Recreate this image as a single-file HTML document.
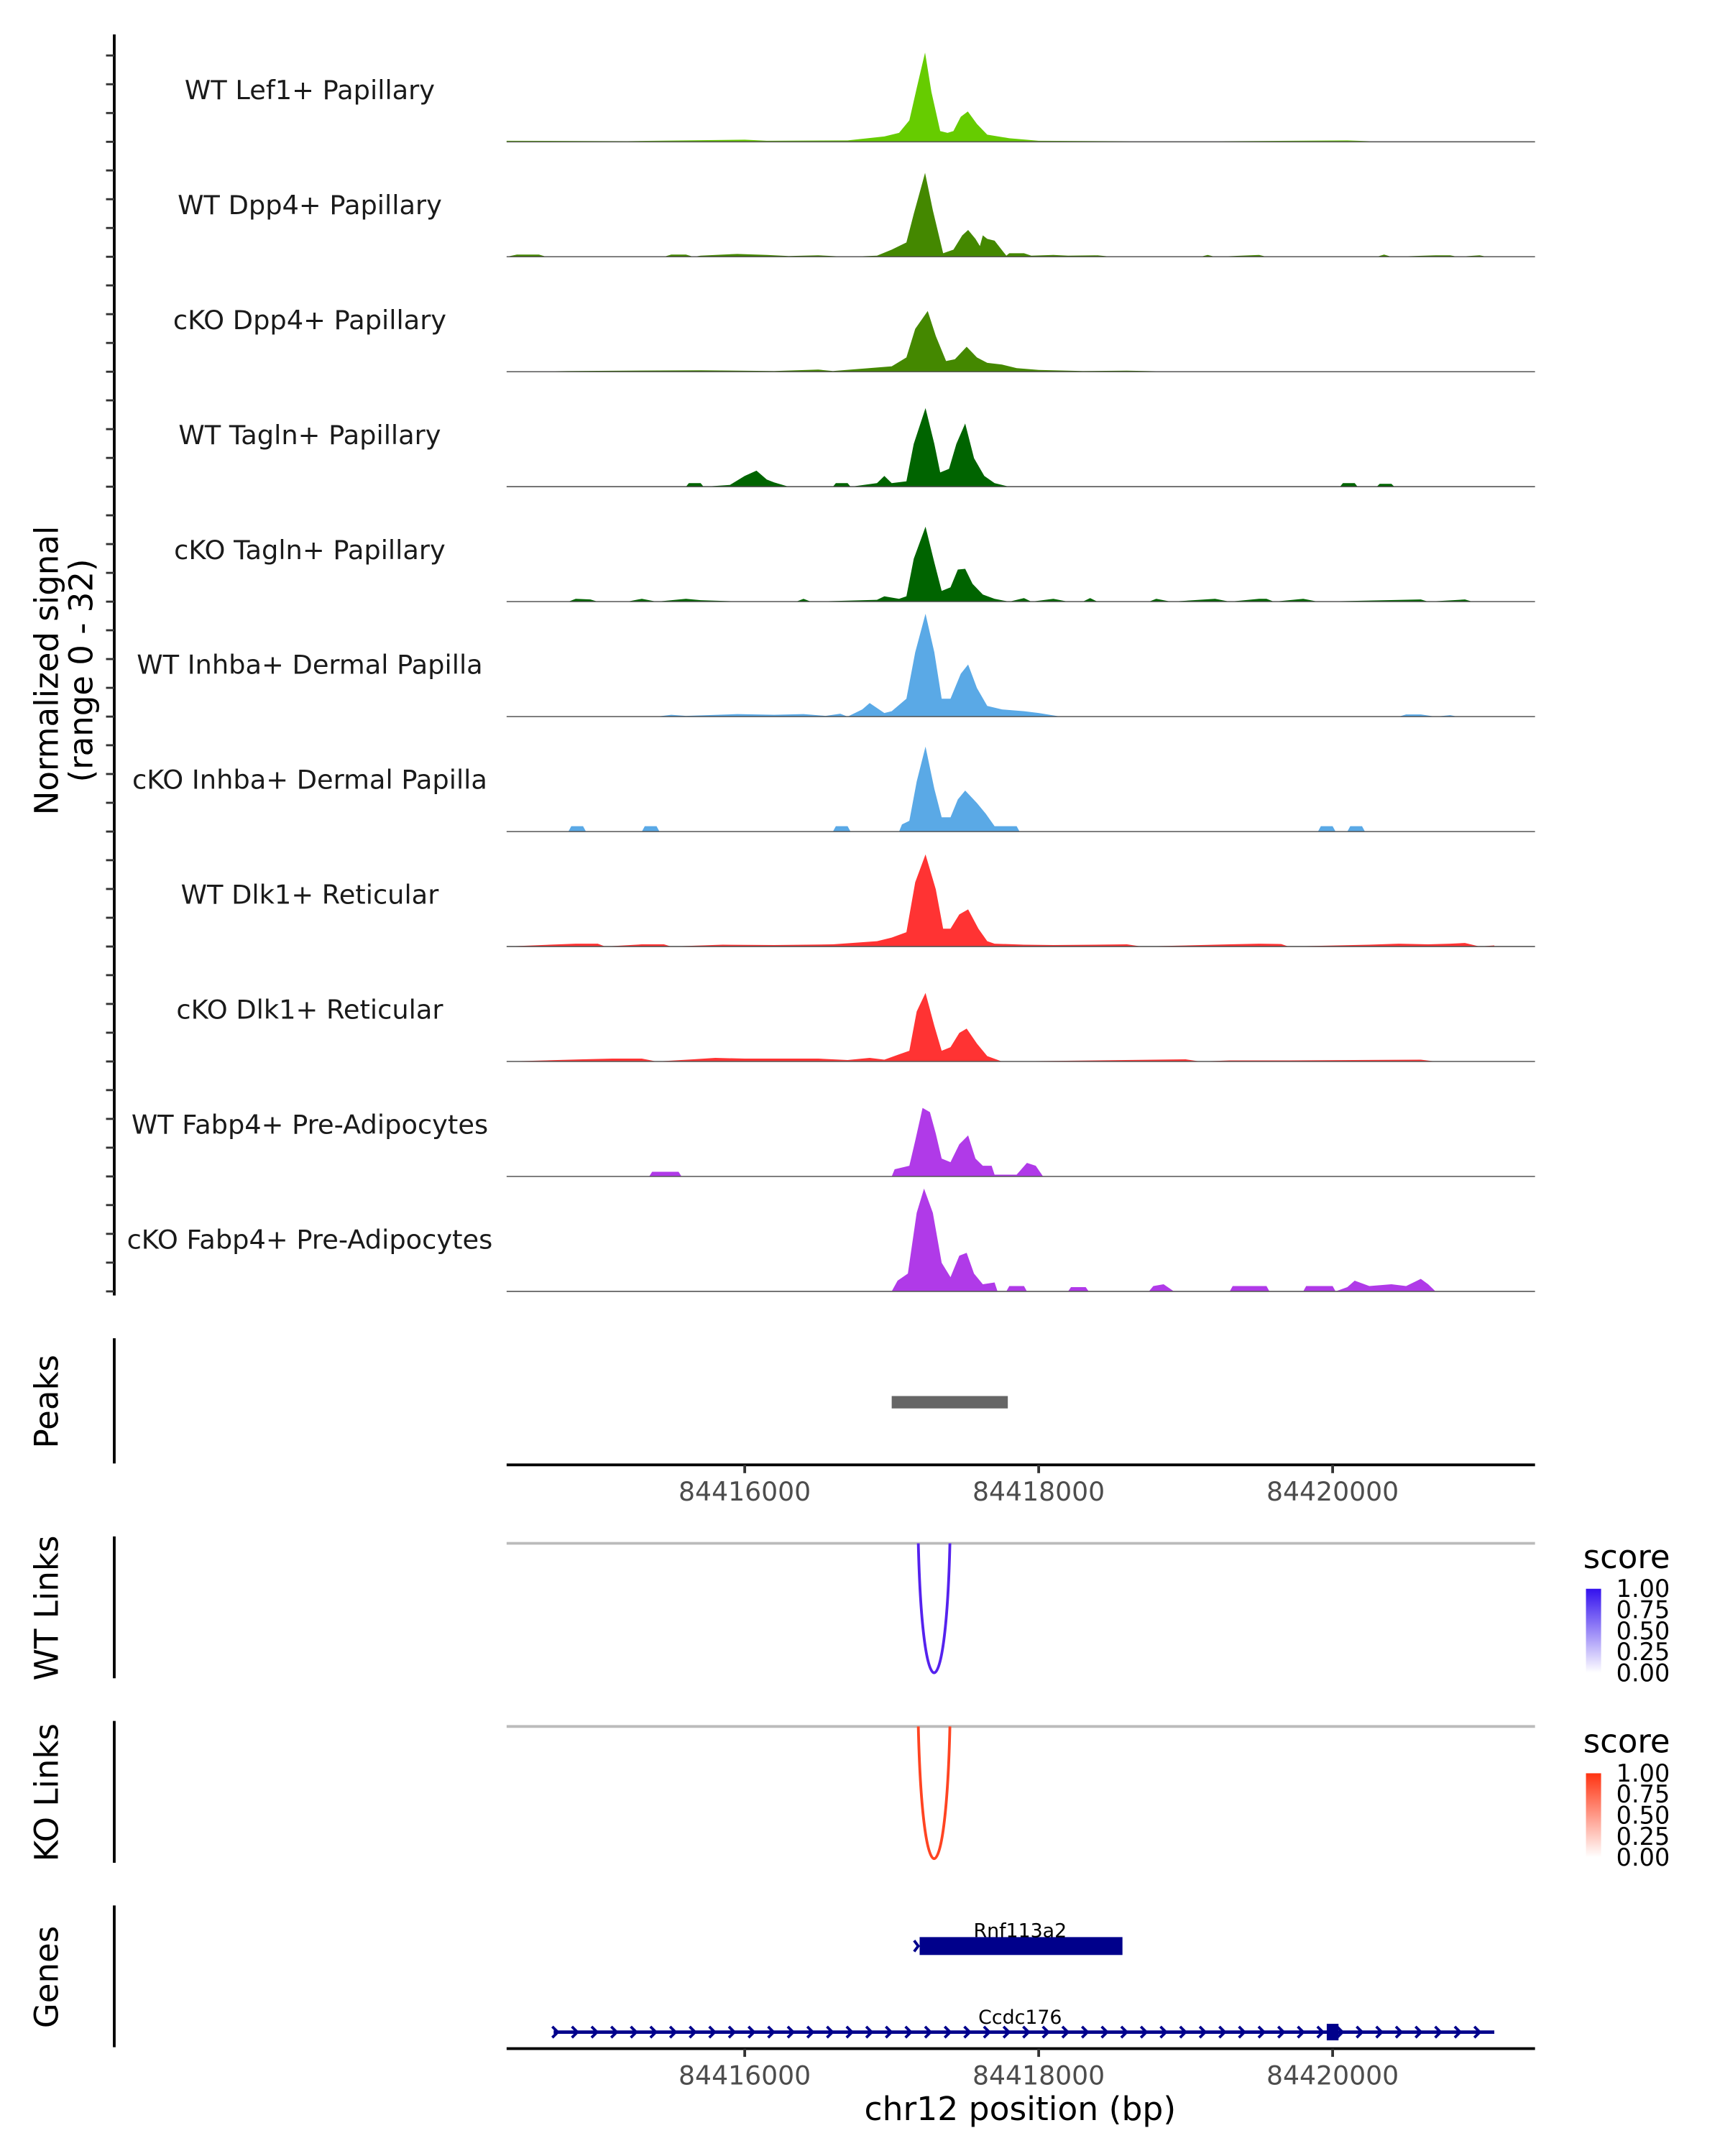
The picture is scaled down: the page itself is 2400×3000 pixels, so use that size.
<!DOCTYPE html>
<html><head><meta charset="utf-8"><style>
html,body{margin:0;padding:0;background:#fff;}
svg{display:block;font-family:"DejaVu Sans","Liberation Sans",sans-serif;}
</style></head><body>
<svg id="chart" width="2400" height="3000" viewBox="0 0 1253 1566" preserveAspectRatio="none" xmlns="http://www.w3.org/2000/svg">
<g id="tracks"></g>
<g id="static"></g>
</svg>
<script>
// ---- data ----
const trackNames = ["WT Lef1+ Papillary","WT Dpp4+ Papillary","cKO Dpp4+ Papillary","WT Tagln+ Papillary","cKO Tagln+ Papillary","WT Inhba+ Dermal Papilla","cKO Inhba+ Dermal Papilla","WT Dlk1+ Reticular","cKO Dlk1+ Reticular","WT Fabp4+ Pre-Adipocytes","cKO Fabp4+ Pre-Adipocytes"];
const trackColors = ["#66cc00","#448800","#448800","#006400","#006400","#5aa9e6","#5aa9e6","#ff3333","#ff3333","#b03ae8","#b03ae8"];
const lef1Wt = [[84414380,0.3],[84415200,0.2],[84416000,0.6],[84416150,0.3],[84416700,0.4],[84416950,1.5],[84417050,2.5],[84417120,6],[84417170,15],[84417227,25],[84417270,14],[84417330,3],[84417380,2.5],[84417420,3],[84417470,7],[84417518,8.5],[84417580,5],[84417650,2],[84417800,1],[84418000,0.3],[84419000,0.1],[84420100,0.4],[84420300,0.1],[84421377,0.1]];
const dpp4Wt = [[84414380,0],[84414450,0.6],[84414600,0.6],[84414650,0],[84415450,0],[84415500,0.6],[84415600,0.6],[84415650,0],[84415700,0.3],[84415950,0.8],[84416150,0.5],[84416300,0.2],[84416500,0.4],[84416700,0],[84416900,0.3],[84417000,2],[84417100,4],[84417150,12],[84417227,23.5],[84417280,13],[84417350,1],[84417420,2],[84417480,6],[84417520,7.5],[84417570,5],[84417600,3],[84417620,6],[84417650,5],[84417700,4.5],[84417780,0.3],[84417800,1],[84417900,1],[84417950,0.3],[84418100,0.5],[84418200,0.3],[84418400,0.4],[84418500,0],[84419100,0],[84419150,0.5],[84419200,0],[84419500,0.5],[84419550,0],[84420300,0],[84420350,0.6],[84420400,0],[84420700,0.4],[84420800,0.4],[84420850,0],[84421000,0.4],[84421050,0]];
const dpp4Ko = [[84414380,0],[84414800,0.2],[84415200,0.3],[84415700,0.4],[84416200,0.2],[84416500,0.6],[84416600,0.2],[84417000,1.5],[84417100,4],[84417160,12],[84417245,17],[84417300,10],[84417370,3],[84417430,3.5],[84417510,7],[84417580,4],[84417650,2.5],[84417750,2],[84417850,1],[84418000,0.5],[84418300,0.2],[84418600,0.3],[84419000,0],[84421377,0]];
const taglnWt = [[84414380,0],[84415600,0],[84415620,1],[84415700,1],[84415720,0],[84415900,0.5],[84416000,3],[84416080,4.5],[84416150,2],[84416200,1.2],[84416300,0],[84416600,0],[84416620,1],[84416700,1],[84416720,0],[84416900,1],[84416950,3],[84417000,1],[84417100,1.5],[84417150,12],[84417230,22],[84417290,12],[84417330,4],[84417390,5],[84417440,12],[84417500,17.7],[84417560,8],[84417630,3],[84417700,1],[84417800,0],[84420050,0],[84420070,1],[84420150,1],[84420170,0],[84420300,0],[84420320,0.8],[84420400,0.8],[84420420,0]];
const taglnKo = [[84414380,0],[84414800,0],[84414850,0.8],[84414950,0.6],[84415000,0],[84415200,0],[84415300,0.8],[84415400,0],[84415600,0.8],[84415700,0.4],[84416000,0],[84416350,0],[84416400,0.8],[84416450,0],[84416900,0.5],[84416950,1.5],[84417050,0.8],[84417100,1.5],[84417150,12],[84417230,21],[84417290,11],[84417340,3],[84417400,4],[84417450,9],[84417500,9.2],[84417550,5],[84417620,2],[84417700,0.8],[84417800,0],[84417900,1],[84417950,0],[84418100,0.8],[84418200,0],[84418300,0],[84418350,1],[84418400,0],[84418750,0],[84418800,0.8],[84418900,0],[84419200,0.8],[84419300,0],[84419500,0.8],[84419550,0.8],[84419600,0],[84419800,0.8],[84419900,0],[84420600,0.6],[84420650,0],[84420900,0.6],[84420950,0]];
const inhbaWt = [[84414380,0],[84415400,0],[84415500,0.5],[84415600,0.2],[84415950,0.7],[84416200,0.5],[84416400,0.7],[84416550,0.2],[84416650,0.8],[84416700,0],[84416800,2],[84416850,3.8],[84416950,1],[84417000,1.5],[84417100,5],[84417160,18],[84417230,28.8],[84417290,18],[84417340,5],[84417400,5],[84417470,12],[84417520,14.6],[84417580,8],[84417650,3],[84417750,2],[84417900,1.5],[84418000,1],[84418150,0],[84420450,0],[84420500,0.6],[84420600,0.6],[84420700,0],[84420800,0.4],[84420850,0]];
const inhbaKo = [[84414380,0],[84414800,0],[84414820,1.5],[84414900,1.5],[84414920,0],[84415300,0],[84415320,1.5],[84415400,1.5],[84415420,0],[84416600,0],[84416620,1.5],[84416700,1.5],[84416720,0],[84417050,0],[84417070,2],[84417120,3],[84417170,14],[84417230,23.8],[84417290,12],[84417340,4],[84417400,4],[84417450,9],[84417500,11.5],[84417580,8],[84417640,5],[84417700,1.5],[84417850,1.5],[84417870,0],[84419900,0],[84419920,1.5],[84420000,1.5],[84420020,0],[84420100,0],[84420120,1.5],[84420200,1.5],[84420220,0]];
const dlk1Wt = [[84414380,0],[84414850,0.8],[84415000,0.8],[84415050,0],[84415300,0.6],[84415450,0.6],[84415500,0],[84415850,0.5],[84416200,0.4],[84416600,0.6],[84416900,1.5],[84417000,2.5],[84417100,4],[84417160,18],[84417230,25.8],[84417300,16],[84417350,5],[84417400,5],[84417460,9],[84417520,10.4],[84417590,5],[84417650,1.5],[84417700,0.8],[84417900,0.5],[84418100,0.4],[84418600,0.6],[84418700,0],[84419300,0.6],[84419500,0.8],[84419650,0.7],[84419700,0],[84420250,0.5],[84420450,0.8],[84420650,0.6],[84420800,0.8],[84420900,1],[84421000,0],[84421100,0.3]];
const dlk1Ko = [[84414380,0],[84414900,0.6],[84415100,0.8],[84415300,0.8],[84415400,0],[84415650,0.6],[84415800,1],[84416000,0.8],[84416150,0.8],[84416300,0.8],[84416500,0.8],[84416700,0.4],[84416850,1],[84416950,0.5],[84417050,2],[84417120,3],[84417170,14],[84417230,19.2],[84417290,10],[84417340,3],[84417400,4],[84417460,8],[84417510,9.2],[84417580,5],[84417650,1.5],[84417750,0],[84419000,0.6],[84419100,0],[84419300,0.3],[84419700,0.3],[84420600,0.5],[84420700,0]];
const fabp4Wt = [[84414380,0],[84415350,0],[84415370,1.3],[84415550,1.3],[84415570,0],[84417000,0],[84417020,2],[84417120,3],[84417160,10],[84417210,19.2],[84417260,18],[84417300,12],[84417340,5],[84417400,4],[84417460,9],[84417520,11.5],[84417570,5],[84417620,3],[84417680,3],[84417700,0.5],[84417850,0.5],[84417920,3.8],[84417980,3],[84418030,0]];
const fabp4Ko = [[84414380,0],[84417000,0],[84417040,3],[84417110,5],[84417170,22],[84417220,28.8],[84417280,22],[84417340,8],[84417400,4],[84417460,10],[84417510,10.8],[84417560,5],[84417620,2],[84417700,2.5],[84417720,0],[84417780,0],[84417800,1.5],[84417900,1.5],[84417920,0],[84418200,0],[84418220,1.2],[84418320,1.2],[84418340,0],[84418750,0],[84418780,1.5],[84418850,2],[84418920,0],[84419300,0],[84419320,1.5],[84419550,1.5],[84419570,0],[84419800,0],[84419820,1.5],[84420000,1.5],[84420020,0],[84420100,1.2],[84420150,3],[84420250,1.5],[84420400,2],[84420500,1.5],[84420600,3.5],[84420650,2],[84420700,0]];
const trackData = [lef1Wt,dpp4Wt,dpp4Ko,taglnWt,taglnKo,inhbaWt,inhbaKo,dlk1Wt,dlk1Ko,fabp4Wt,fabp4Ko];
const xTicks = [84416000,84418000,84420000];
const peakRegions = [[84417000,84417790]];
const wtLinks = [[84417181,84417396,1.0]];
const koLinks = [[84417181,84417396,1.0]];
const legendTicks = ["1.00","0.75","0.50","0.25","0.00"];
const geneRnf = [84417190,84418570];
const geneCcdc = [84414700,84421100];
const ccdcExon = [84419960,84420040];

// ---- scales ----
const X0=368, X1=1115, BP0=84414380, BP1=84421377;
const xs = bp => X0 + (bp-BP0)/(BP1-BP0)*(X1-X0);
const baseY0=103, trackStep=83.5, yPerUnit=83/32;
const ys = (i,v) => baseY0 + i*trackStep - v*yPerUnit;
const NS="http://www.w3.org/2000/svg";
function mk(tag, attrs, parent){const e=document.createElementNS(NS,tag);for(const k in attrs)e.setAttribute(k,attrs[k]);parent.appendChild(e);return e;}
const T=document.getElementById('tracks'), S=document.getElementById('static');

trackData.forEach((pts,i)=>{
  const base=ys(i,0);
  let d=`M${xs(pts[0][0])},${base}`;
  pts.forEach(p=>{d+=` L${xs(p[0]).toFixed(2)},${ys(i,p[1]).toFixed(2)}`;});
  d+=` L${xs(pts[pts.length-1][0])},${base} Z`;
  const a=mk('path',{d:d,fill:trackColors[i],stroke:'none'},T);
  
  
  const l=mk('line',{x1:X0,x2:X1,y1:base,y2:base,stroke:'#555','stroke-width':0.8},T);
  
  
  const t=mk('text',{x:225,y:base-31,'text-anchor':'middle','font-size':19.2,fill:'#1a1a1a'},T);
  t.textContent=trackNames[i];
  
  
});
let ax=mk('line',{x1:83,x2:83,y1:25,y2:941,stroke:'#000','stroke-width':2},S);


for(let i=0;i<11;i++){for(let k=0;k<4;k++){
  const y=ys(i,0)-k*20.9;
  const tk=mk('line',{x1:77,x2:83,y1:y,y2:y,stroke:'#333','stroke-width':1.5},S);
  
  
}}
function vtext(x,y,s,name,size){const t=mk('text',{x:x,y:y,transform:`rotate(-90 ${x} ${y})`,'text-anchor':'middle','font-size':size||23.5,fill:'#000'},S);t.textContent=s;return t;}
vtext(42,487,"Normalized signal","y-axis-title");
vtext(67,487,"(range 0 - 32)","y-axis-subtitle");
[[972,1063,'Peaks',1018,'peaks'],[1116,1219,'WT Links',1168,'wt-links'],[1250,1353,'KO Links',1302,'ko-links'],[1384,1487,'Genes',1436,'genes']].forEach(a=>{
  const l=mk('line',{x1:83,x2:83,y1:a[0],y2:a[1],stroke:'#000','stroke-width':2},S);
  
  
  vtext(42,a[3],a[2],a[4]+'-label');
});
peakRegions.forEach(p=>{
  const r=mk('rect',{x:xs(p[0]),y:1014,width:xs(p[1])-xs(p[0]),height:9,fill:'#666'},S);
  
  
});
function xAxis(y,name){
  const l=mk('line',{x1:X0,x2:X1,y1:y,y2:y,stroke:'#000','stroke-width':2},S);
  
  
  xTicks.forEach(v=>{
    const tk=mk('line',{x1:xs(v),x2:xs(v),y1:y,y2:y+6,stroke:'#333','stroke-width':2},S);
    
    
    const t=mk('text',{x:xs(v),y:y+26,'text-anchor':'middle','font-size':18.9,fill:'#4d4d4d'},S);
    t.textContent=v;
    
    
  });
}
xAxis(1064,'peaks-x-axis');
xAxis(1488,'genes-x-axis');
const xt=mk('text',{x:741,y:1540,'text-anchor':'middle','font-size':23.8,fill:'#000'},S);
xt.textContent="chr12 position (bp)";


function links(arr,top,bottom,color,name,legY,c1){
  const g=mk('line',{x1:X0,x2:X1,y1:top,y2:top,stroke:'#bbb','stroke-width':2},S);
  
  
  arr.forEach(k=>{
    const a=xs(k[0]),b=xs(k[1]);const c=top+(bottom-top)/0.75*k[2];
    const p=mk('path',{d:`M${a},${top} C${a+3},${c} ${b-3},${c} ${b},${top}`,fill:'none',stroke:color,'stroke-width':2},S);
    
    
  });
  const st=mk('text',{x:1150,y:legY,'font-size':23.5,fill:'#000'},S);
  st.textContent="score";
  
  
  const gid=name+'-grad';
  const defs=mk('defs',{},S);const lg=mk('linearGradient',{id:gid,x1:0,y1:0,x2:0,y2:1},defs);
  mk('stop',{offset:0,'stop-color':c1},lg);mk('stop',{offset:1,'stop-color':'#ffffff'},lg);
  const bar=mk('rect',{x:1152,y:legY+15,width:11,height:61,fill:`url(#${gid})`},S);
  
  
  legendTicks.forEach((s,i)=>{
    const t=mk('text',{x:1174,y:legY+21+i*15.3,'font-size':17.5,fill:'#000'},S);
    t.textContent=s;
    
    
  });
}
links(wtLinks,1121,1215,'#5522ee','wt-links',1139,'#3311ee');
links(koLinks,1254,1350,'#ff4422','ko-links',1273,'#ff3311');
const navy='#00008b';
let r=mk('rect',{x:xs(geneRnf[0]),y:1407,width:xs(geneRnf[1])-xs(geneRnf[0]),height:13,fill:navy},S);


let ch=mk('path',{d:`M${xs(geneRnf[0])-4},1409.5 l3,4 l-3,4`,fill:'none',stroke:navy,'stroke-width':2},S);


let gt=mk('text',{x:741,y:1407,'text-anchor':'middle','font-size':14,fill:'#000'},S);
gt.textContent="Rnf113a2";


let gl=mk('line',{x1:xs(geneCcdc[0]),x2:xs(geneCcdc[1]),y1:1476,y2:1476,stroke:navy,'stroke-width':2.5},S);


for(let x=xs(geneCcdc[0])+2;x<=xs(geneCcdc[1]);x+=14.25){
  const c=mk('path',{d:`M${x-3},1472 l4,4 l-4,4`,fill:'none',stroke:navy,'stroke-width':2},S);
  
  
}
let ex=mk('rect',{x:xs(ccdcExon[0]),y:1470,width:xs(ccdcExon[1])-xs(ccdcExon[0]),height:12,fill:navy},S);


let gt2=mk('text',{x:741,y:1470,'text-anchor':'middle','font-size':14,fill:'#000'},S);
gt2.textContent="Ccdc176";


</script>
</body></html>
